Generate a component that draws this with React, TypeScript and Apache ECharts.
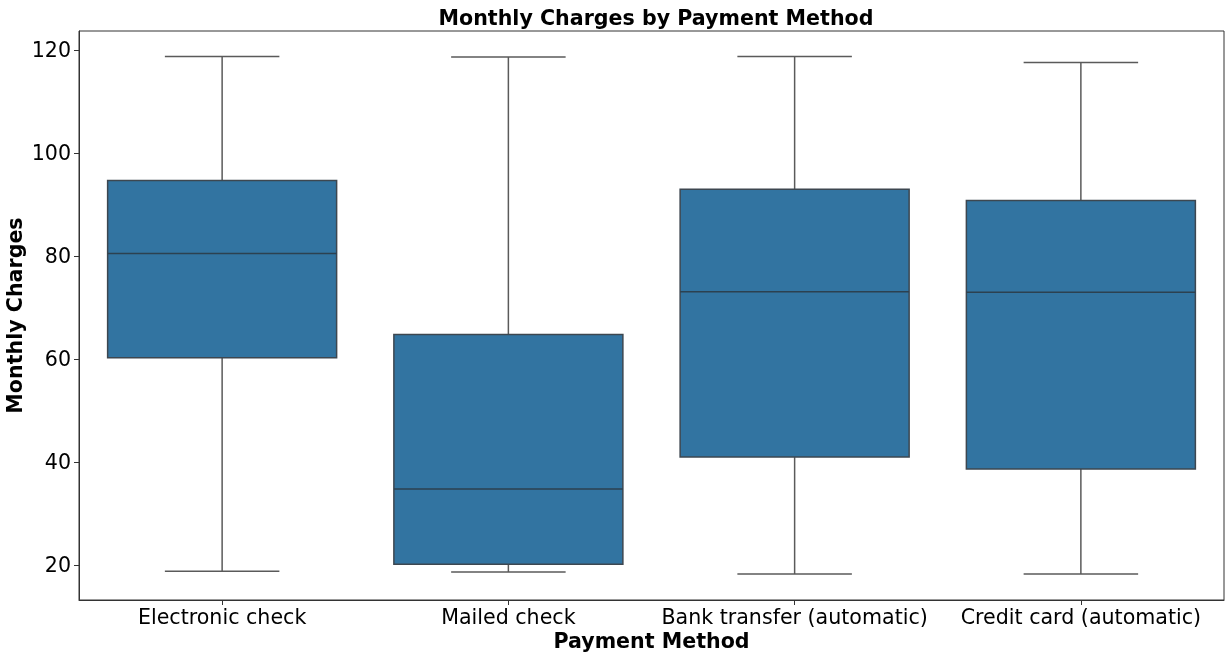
import React, { useEffect, useRef } from "react";
import * as echarts from "echarts";

const categories = ["Electronic check", "Mailed check", "Bank transfer (automatic)", "Credit card (automatic)"];
// [min, q1, median, q3, max]
const lowWhisker = [18.85, 18.7, 18.3, 18.3];
const q1Values = [60.3, 20.2, 41.0, 38.7];
const medianValues = [80.5, 34.8, 73.1, 73.0];
const q3Values = [94.7, 64.8, 93.0, 90.8];
const highWhisker = [118.75, 118.65, 118.75, 117.6];
const yTicks = [20, 40, 60, 80, 100, 120];

const FONT = "DejaVu Sans";

export default function App() {
  const ref = useRef<HTMLDivElement>(null);
  useEffect(() => {
    if (!ref.current) return;
    const chart = echarts.init(ref.current, undefined, { renderer: "svg" });
    const data = categories.map((_, i) => [i, lowWhisker[i], q1Values[i], medianValues[i], q3Values[i], highWhisker[i]]);
    const boxColor = "#3274a1";
    const edge = "#3d4750";
    const whisk = "#5a5a5a";
    chart.setOption({
      animation: false,
      title: {
        text: "Monthly Charges by Payment Method",
        left: 651,
        textAlign: "center",
        top: 2,
        textStyle: { fontFamily: FONT, fontSize: 20.6, fontWeight: "bold", color: "#000" },
      },
      grid: {
        left: 79, right: 6, top: 31, bottom: 57, show: true, borderColor: "#333", borderWidth: 1,
        backgroundColor: "transparent", containLabel: false, outerBoundsMode: "none",
      },
      xAxis: {
        type: "category",
        data: categories,
        boundaryGap: true,
        name: "Payment Method",
        nameLocation: "middle",
        nameGap: 30,
        nameMoveOverlap: false,
        nameTextStyle: { fontFamily: FONT, fontSize: 20.6, fontWeight: "bold", color: "#000" },
        axisLine: { show: true, lineStyle: { color: "#333", width: 1 } },
        axisTick: { show: true, alignWithLabel: true, length: 5, lineStyle: { color: "#333" } },
        axisLabel: { fontFamily: FONT, fontSize: 20.6, color: "#000", margin: 6, interval: 0 },
        splitLine: { show: false },
      },
      yAxis: {
        type: "value",
        min: 13.26,
        max: 123.7,
        name: "Monthly Charges",
        nameLocation: "middle",
        nameGap: 54,
        nameMoveOverlap: false,
        nameTextStyle: { fontFamily: FONT, fontSize: 20.6, fontWeight: "bold", color: "#000" },
        axisLine: { show: true, lineStyle: { color: "#333", width: 1 } },
        axisTick: { show: true, length: 5, lineStyle: { color: "#333" }, customValues: yTicks },
        axisLabel: { fontFamily: FONT, fontSize: 20.6, color: "#000", margin: 8, customValues: yTicks },
        splitLine: { show: false },
      },
      series: [
        {
          type: "custom",
          data,
          encode: { x: 0, y: [1, 2, 3, 4, 5] },
          renderItem: (params: any, api: any) => {
            const x = api.value(0);
            const bw = api.size([1, 0])[0];
            const boxW = bw * 0.8;
            const capW = boxW * 0.5;
            const pMin = api.coord([x, api.value(1)]);
            const pQ1 = api.coord([x, api.value(2)]);
            const pMed = api.coord([x, api.value(3)]);
            const pQ3 = api.coord([x, api.value(4)]);
            const pMax = api.coord([x, api.value(5)]);
            const cx = pMed[0];
            const lw = { stroke: whisk, lineWidth: 1.5 };
            return {
              type: "group",
              children: [
                { type: "line", shape: { x1: cx, y1: pQ1[1], x2: cx, y2: pMin[1] }, style: lw },
                { type: "line", shape: { x1: cx, y1: pQ3[1], x2: cx, y2: pMax[1] }, style: lw },
                { type: "line", shape: { x1: cx - capW / 2, y1: pMin[1], x2: cx + capW / 2, y2: pMin[1] }, style: lw },
                { type: "line", shape: { x1: cx - capW / 2, y1: pMax[1], x2: cx + capW / 2, y2: pMax[1] }, style: lw },
                {
                  type: "rect",
                  shape: { x: cx - boxW / 2, y: pQ3[1], width: boxW, height: pQ1[1] - pQ3[1] },
                  style: { fill: boxColor, stroke: edge, lineWidth: 1.5 },
                },
                { type: "line", shape: { x1: cx - boxW / 2, y1: pMed[1], x2: cx + boxW / 2, y2: pMed[1] }, style: { stroke: "#2c4150", lineWidth: 1.5 } },
              ],
            };
          },
        },
      ],
    });
    return () => chart.dispose();
  }, []);
  return <div ref={ref} style={{ position: "fixed", left: 0, top: 0, width: 1230, height: 657 }} />;
}
